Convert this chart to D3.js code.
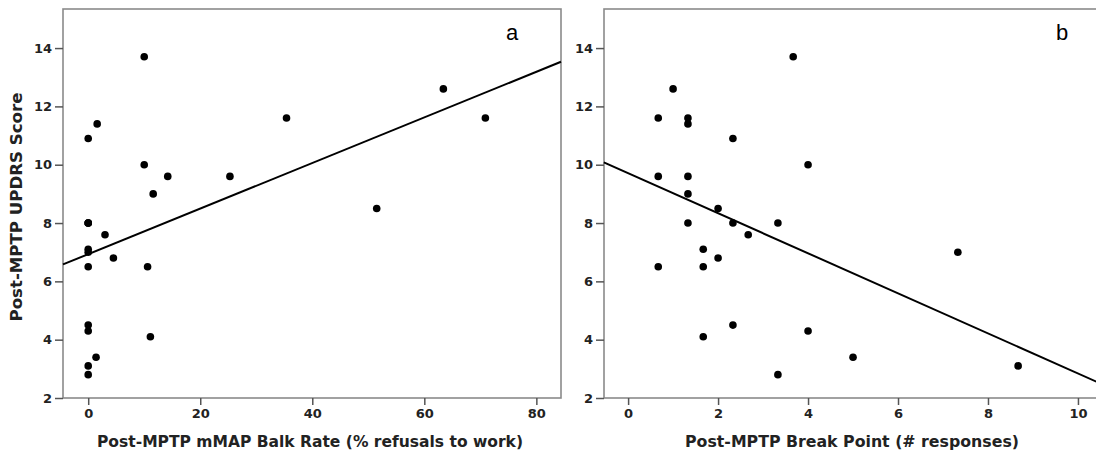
<!DOCTYPE html>
<html><head><meta charset="utf-8">
<script src="https://cdn.jsdelivr.net/npm/d3@7"></script>
<style>body{margin:0;background:#fff}svg{display:block}</style>
</head><body><svg id="c" width="1096" height="455"></svg>
<script>
// Panel a: Post-MPTP mMAP Balk Rate vs UPDRS
const balkRate = [10, 1.6, 0, 10, 14.2, 11.6, 25.3, 35.4, 0, 0, 0, 63.4, 70.9, 51.5, 3.0, 0, 0, 4.5, 0, 10.6, 0, 0, 11.1, 1.4, 0, 0];
const updrsA   = [13.7, 11.4, 10.9, 10, 9.6, 9.0, 9.6, 11.6, 8, 8, 8, 12.6, 11.6, 8.5, 7.6, 7.1, 7.0, 6.8, 6.5, 6.5, 4.5, 4.3, 4.1, 3.4, 3.1, 2.8];
// Panel b: Post-MPTP Break Point vs UPDRS
const breakPoint = [3.67, 1.0, 0.67, 1.33, 1.33, 2.33, 4.0, 0.67, 1.33, 1.33, 2.0, 1.33, 2.33, 3.33, 2.67, 0.67, 1.67, 1.67, 2.0, 2.33, 1.67, 4.0, 3.33, 7.33, 5.0, 8.67];
const updrsB     = [13.7, 12.6, 11.6, 11.6, 11.4, 10.9, 10, 9.6, 9.6, 9.0, 8.5, 8, 8, 8, 7.6, 6.5, 7.1, 6.5, 6.8, 4.5, 4.1, 4.3, 2.8, 7.0, 3.4, 3.1];
// Fit lines (endpoints)
const fitA = [[-4.5, 6.58], [84.4, 13.53]];
const fitB = [[-0.54, 10.08], [10.44, 2.54]];
const xTicksA = [0, 20, 40, 60, 80];
const xTicksB = [0, 2, 4, 6, 8, 10];
const yTicks = [2, 4, 6, 8, 10, 12, 14];
const yTitle = "Post-MPTP UPDRS Score";
const xTitleA = "Post-MPTP mMAP Balk Rate (% refusals to work)";
const xTitleB = "Post-MPTP Break Point (# responses)";

const svg = d3.select("#c");
const plotTop = 9, plotBottom = 398;
const y = d3.scaleLinear().domain([2, 15.34]).range([plotBottom, plotTop]);

function boldText(sel, len) {
  sel.style("font-family", "DejaVu Sans").style("font-weight", "bold").style("font-size", "15.5px")
    .attr("fill", "#222").attr("textLength", len).attr("lengthAdjust", "spacingAndGlyphs");
  return sel;
}

function panel(opts) {
  const x = d3.scaleLinear().domain(opts.xdom).range([opts.left, opts.right]);
  const g = svg.append("g");
  g.append("rect").attr("x", opts.left).attr("y", plotTop)
    .attr("width", opts.right - opts.left).attr("height", plotBottom - plotTop)
    .attr("fill", "none").attr("stroke", "#8a8a8a").attr("stroke-width", 1.6);
  const ya = g.append("g").attr("transform", `translate(${opts.left},0)`)
    .call(d3.axisLeft(y).tickValues(yTicks).tickSize(8).tickPadding(3).tickFormat(d3.format("d")));
  const xa = g.append("g").attr("transform", `translate(0,${plotBottom})`)
    .call(d3.axisBottom(x).tickValues(opts.xticks).tickSize(7).tickPadding(4).tickFormat(d3.format("d")));
  [ya, xa].forEach(a => {
    a.select(".domain").remove();
    a.selectAll(".tick line").attr("stroke", "#555").attr("stroke-width", 1.5);
    a.selectAll(".tick text").attr("fill", "#222")
      .style("font-family", "DejaVu Sans").style("font-weight", "bold").style("font-size", "13px");
  });
  g.append("line")
    .attr("x1", x(opts.fit[0][0])).attr("y1", y(opts.fit[0][1]))
    .attr("x2", x(opts.fit[1][0])).attr("y2", y(opts.fit[1][1]))
    .attr("stroke", "#000").attr("stroke-width", 2);
  g.selectAll("circle.pt").data(opts.xs.map((v, i) => [v, opts.ys[i]])).enter()
    .append("circle").attr("cx", d => x(d[0])).attr("cy", d => y(d[1])).attr("r", 3.8).attr("fill", "#000");
  boldText(g.append("text").attr("x", opts.titleX).attr("y", 447).attr("text-anchor", "middle"), opts.titleLen)
    .text(opts.xtitle);
  g.append("text").attr("x", opts.letterX).attr("y", 40)
    .style("font-family", "Liberation Sans").style("font-size", "22px").attr("fill", "#000").text(opts.letter);
}

panel({left: 63, right: 561, xdom: [-4.5, 84.4], xticks: xTicksA, xs: balkRate, ys: updrsA, fit: fitA,
  xtitle: xTitleA, titleX: 310, titleLen: 426, letter: "a", letterX: 506});
panel({left: 604, right: 1100, xdom: [-0.536, 10.49], xticks: xTicksB, xs: breakPoint, ys: updrsB, fit: fitB,
  xtitle: xTitleB, titleX: 852, titleLen: 334, letter: "b", letterX: 1056});

boldText(svg.append("text").attr("transform", `translate(22,207) rotate(-90)`)
  .attr("text-anchor", "middle"), 229).text(yTitle);
</script></body></html>
